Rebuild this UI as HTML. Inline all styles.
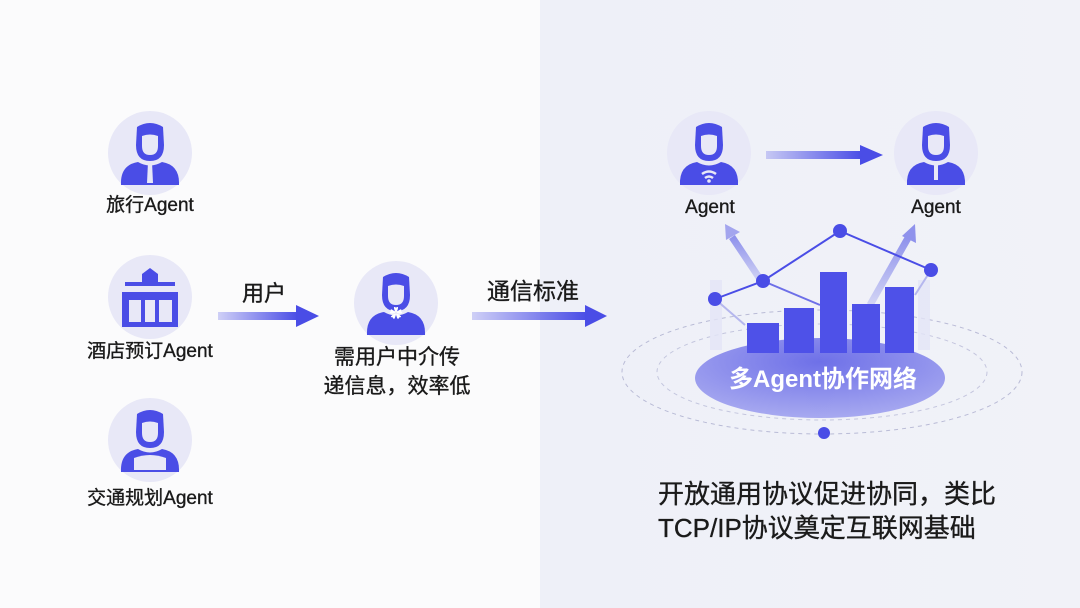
<!DOCTYPE html>
<html><head><meta charset="utf-8"><style>
html,body{margin:0;padding:0;background:#fbfbfc;}
svg{display:block;}
text{font-family:"Liberation Sans","Noto Sans CJK SC",sans-serif;}
.d{fill:#1a1a1a;stroke:#1a1a1a;stroke-width:0.35;}
</style></head><body>
<svg width="1080" height="608" viewBox="0 0 1080 608" xmlns="http://www.w3.org/2000/svg">
<defs>
<linearGradient id="panel" x1="0" y1="0" x2="1" y2="0">
<stop offset="0" stop-color="#eef0f8"/><stop offset="1" stop-color="#f1f2f8"/></linearGradient>
<linearGradient id="arr" x1="0" y1="0" x2="1" y2="0">
<stop offset="0" stop-color="#4a4de6" stop-opacity="0.25"/><stop offset="1" stop-color="#4a4de6"/></linearGradient>
<radialGradient id="disc" cx="0.5" cy="0.3" r="0.7">
<stop offset="0" stop-color="#6e70e8"/><stop offset="1" stop-color="#a7a9f0"/></radialGradient>
<linearGradient id="up" x1="0" y1="1" x2="0" y2="0">
<stop offset="0" stop-color="#8f92ec" stop-opacity="0.3"/><stop offset="1" stop-color="#8f92ec"/></linearGradient>
<symbol id="person" viewBox="-42 -42 84 84">
<circle r="42" fill="#e8e8f7"/>
<path d="M-13,-26 Q0,-34 13,-26 L14,-8 Q14,8 0,8 Q-14,8 -14,-8 Z" fill="#4a4de6"/>
<path d="M-8,-17 Q0,-20 8,-17 L8,-7 Q8,2 0,2 Q-8,2 -8,-7 Z" fill="#e8e8f7"/>
<path d="M-29,32 Q-30,12 -12,9 Q0,16 12,9 Q30,12 29,32 Z" fill="#4a4de6"/>
</symbol>
</defs>
<rect x="540" y="0" width="540" height="608" fill="url(#panel)"/>

<use href="#person" x="108" y="111" width="84" height="84"/>
<path d="M148,162 L152,162 L153,183 L147,183 Z" fill="#e8e8f7"/>
<text x="150" y="211" font-size="19" text-anchor="middle" class="d">旅行Agent</text>

<circle cx="150" cy="297" r="42" fill="#e8e8f7"/>
<g fill="#4a4de6">
<path d="M142,274 L150,268 L158,274 L158,282 L142,282 Z"/>
<rect x="125" y="282" width="50" height="4"/>
<path d="M122,292 L178,292 L178,327 L122,327 Z"/>
</g>
<g fill="#e8e8f7"><rect x="129" y="300" width="12" height="22"/><rect x="145" y="300" width="10" height="22"/><rect x="159" y="300" width="13" height="22"/></g>
<text x="150" y="357" font-size="19" text-anchor="middle" class="d">酒店预订Agent</text>

<use href="#person" x="108" y="398" width="84" height="84"/>
<path d="M134,458 Q150,452 166,458 L166,470 L134,470 Z" fill="#e8e8f7"/>
<text x="150" y="504" font-size="19" text-anchor="middle" class="d">交通规划Agent</text>

<rect x="218" y="312" width="80" height="8" fill="url(#arr)"/>
<path d="M296,305 L319,316 L296,327 Z" fill="#4a4de6"/>
<text x="264" y="301" font-size="22" text-anchor="middle" class="d">用户</text>

<use href="#person" x="354" y="261" width="84" height="84"/>
<text x="396" y="318" font-size="13" text-anchor="middle" fill="#fff">✿</text>
<text x="397" y="364" font-size="21" text-anchor="middle" class="d">需用户中介传</text>
<text x="397" y="393" font-size="21" text-anchor="middle" class="d">递信息，效率低</text>

<rect x="472" y="312" width="115" height="8" fill="url(#arr)"/>
<path d="M585,305 L607,316 L585,327 Z" fill="#4a4de6"/>
<text x="533" y="299" font-size="23" text-anchor="middle" class="d">通信标准</text>

<use href="#person" x="667" y="111" width="84" height="84"/>
<path d="M702,174 Q709,169 716,174" stroke="#e8e8f7" stroke-width="2.5" fill="none"/>
<path d="M705,178 Q709,175 713,178" stroke="#e8e8f7" stroke-width="2.5" fill="none"/>
<circle cx="709" cy="181" r="1.8" fill="#e8e8f7"/>
<text x="710" y="213" font-size="19" text-anchor="middle" class="d">Agent</text>
<use href="#person" x="894" y="111" width="84" height="84"/>
<rect x="934" y="162" width="4" height="18" fill="#e8e8f7"/>
<text x="936" y="213" font-size="19" text-anchor="middle" class="d">Agent</text>
<rect x="766" y="151" width="96" height="8" fill="url(#arr)"/>
<path d="M860,145 L883,155 L860,165 Z" fill="#4a4de6"/>

<ellipse cx="822" cy="372" rx="200" ry="62" fill="none" stroke="#b9bbd6" stroke-dasharray="4 4"/>
<ellipse cx="822" cy="372" rx="165" ry="48" fill="none" stroke="#c4c6de" stroke-dasharray="4 4"/>
<rect x="710" y="280" width="12" height="70" fill="#e4e5f6" opacity="0.8"/>
<rect x="918" y="280" width="12" height="70" fill="#e4e5f6" opacity="0.8"/>
<ellipse cx="820" cy="378" rx="125" ry="40" fill="url(#disc)"/>
<path d="M762,282 L732,237" stroke="url(#up)" stroke-width="7"/>
<path d="M725,224 L740,232 L726,240 Z" fill="#a3a5ee"/>
<path d="M870,305 L908,238" stroke="url(#up)" stroke-width="7"/>
<path d="M915,224 L916,243 L902,236 Z" fill="#8f92ec"/>
<polyline points="715,299 763,281 840,231 931,270" fill="none" stroke="#4a4de6" stroke-width="2"/>
<path d="M763,281 L820,305" stroke="#6d6fe8" stroke-width="2"/>
<path d="M715,299 L745,325" stroke="#b5b7ee" stroke-width="2"/>
<path d="M931,270 L915,295" stroke="#b5b7ee" stroke-width="2"/>
<g fill="#4e51e8">
<rect x="747" y="323" width="32" height="30"/>
<rect x="784" y="308" width="30" height="45"/>
<rect x="820" y="272" width="27" height="81"/>
<rect x="852" y="304" width="28" height="49"/>
<rect x="885" y="287" width="29" height="66"/>
</g>
<g fill="#4a4de6">
<circle cx="715" cy="299" r="7"/><circle cx="763" cy="281" r="7"/><circle cx="840" cy="231" r="7"/><circle cx="931" cy="270" r="7"/>
</g>
<text x="823" y="387" font-size="24" font-weight="bold" text-anchor="middle" fill="#fff">多Agent协作网络</text>
<circle cx="824" cy="433" r="6" fill="#4a4de6"/>

<text x="658" y="503" font-size="26" class="d">开放通用协议促进协同，类比</text>
<text x="658" y="537" font-size="26" class="d">TCP/IP协议奠定互联网基础</text>
</svg>
</body></html>
